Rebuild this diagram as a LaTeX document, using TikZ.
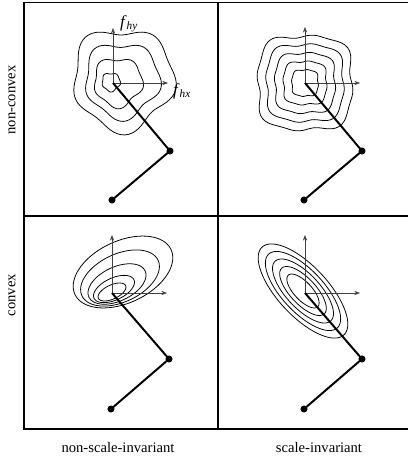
\documentclass[tikz,border=0pt]{standalone}
\usepackage{fontspec}
\setmainfont{Liberation Serif}
\usetikzlibrary{arrows.meta}

\begin{document}
\begin{tikzpicture}[x=0.025cm, y=-0.025cm,
  every node/.style={font=\fontsize{10.4}{12}\selectfont},
  frame/.style={line width=1.3pt},
  level/.style={line width=0.55pt},
  axis/.style={-{Stealth[length=4pt,width=3pt]}, line width=0.4pt, draw=black!75},
  arm/.style={line width=1.4pt},
  joint/.style={circle, fill=black, inner sep=0pt, minimum size=5pt},
]
\useasboundingbox (0,0) rectangle (408,460);

% frame and grid
\draw[frame] (408,2.5) -- (24,2.5) -- (24,429) -- (408,429);
\draw[frame] (218,2.5) -- (218,429);
\draw[frame] (24,216) -- (408,216);

% row and column labels
\node[rotate=90] (nonconvex) at (12,100) {non-convex};
\node[rotate=90] (convex)    at (12,295) {convex};
\node (nonscale) at (118,447) {non-scale-invariant};
\node (scale)    at (319,447) {scale-invariant};

% level sets, non-convex / non-scale-invariant
\foreach \cx/\cy/\R in {111/82/9, 118/82/24, 122/80/37, 123/79/50}
  \draw[level] plot[variable=\t, domain=0:356, samples=90, smooth cycle]
    ({\cx + \R*(1 + 0.08*sin(5*\t+20) + 0.05*cos(3*\t+60))*cos(\t)},
     {\cy + \R*(1 + 0.08*sin(5*\t+20) + 0.05*cos(3*\t+60))*sin(\t)});

% level sets, non-convex / scale-invariant
\foreach \R in {14, 23, 32, 41, 50}
  \draw[level] plot[variable=\t, domain=0:356, samples=90, smooth cycle]
    ({305 + \R*(1 - 0.08*cos(4*\t) + 0.035*sin(8*\t+30))*cos(\t)},
     {83 + \R*(1 - 0.08*cos(4*\t) + 0.035*sin(8*\t+30))*sin(\t)});

% level sets, convex / non-scale-invariant
\foreach \cx/\cy/\a/\b in {123/272/53/31, 120/278/42/24, 117/284/31/17, 114/289/22/11, 112/292/15/7}
  \draw[level] plot[variable=\t, domain=0:356, samples=90, smooth cycle]
    ({\cx + \a*cos(\t)*cos(-25) - \b*sin(\t)*sin(-25)},
     {\cy + \a*cos(\t)*sin(-25) + \b*sin(\t)*cos(-25)});

% level sets, convex / scale-invariant
\foreach \s in {1, 0.84, 0.68, 0.52, 0.36}
  \draw[level] plot[variable=\t, domain=0:356, samples=90, smooth cycle]
    ({303 + \s*60*cos(\t)*cos(47) - \s*25*sin(\t)*sin(47)},
     {291 + \s*60*cos(\t)*sin(47) + \s*25*sin(\t)*cos(47)});

% arms and axes
\coordinate (tipA) at (113,83);
\node[joint] (elbowA) at (170,151) {};
\node[joint] (baseA)  at (112,200) {};
\coordinate (fxA) at (168,83);
\coordinate (fyA) at (113,28);
\draw[axis] (tipA) -- (fxA);
\draw[axis] (tipA) -- (fyA);
\draw[arm] (tipA) -- (elbowA.center) -- (baseA.center);
\node[font=\fontsize{12}{14}\selectfont] (fhy) at (129,24) {\textit{f}\textsubscript{\textit{hy}}};
\node[font=\fontsize{12}{14}\selectfont] (fhx) at (182,91) {\textit{f}\textsubscript{\textit{hx}}};

\coordinate (tipB) at (305,83);
\node[joint] (elbowB) at (362,151) {};
\node[joint] (baseB)  at (304,200) {};
\coordinate (fxB) at (360,83);
\coordinate (fyB) at (305,27);
\draw[axis] (tipB) -- (fxB);
\draw[axis] (tipB) -- (fyB);
\draw[arm] (tipB) -- (elbowB.center) -- (baseB.center);

\coordinate (tipC) at (112,293);
\node[joint] (elbowC) at (169,359) {};
\node[joint] (baseC)  at (111,409) {};
\coordinate (fxC) at (167,293);
\coordinate (fyC) at (112,235);
\draw[axis] (tipC) -- (fxC);
\draw[axis] (tipC) -- (fyC);
\draw[arm] (tipC) -- (elbowC.center) -- (baseC.center);

\coordinate (tipD) at (305,293);
\node[joint] (elbowD) at (362,359) {};
\node[joint] (baseD)  at (304,409) {};
\coordinate (fxD) at (360,293);
\coordinate (fyD) at (305,235);
\draw[axis] (tipD) -- (fxD);
\draw[axis] (tipD) -- (fyD);
\draw[arm] (tipD) -- (elbowD.center) -- (baseD.center);
\end{tikzpicture}
\end{document}
